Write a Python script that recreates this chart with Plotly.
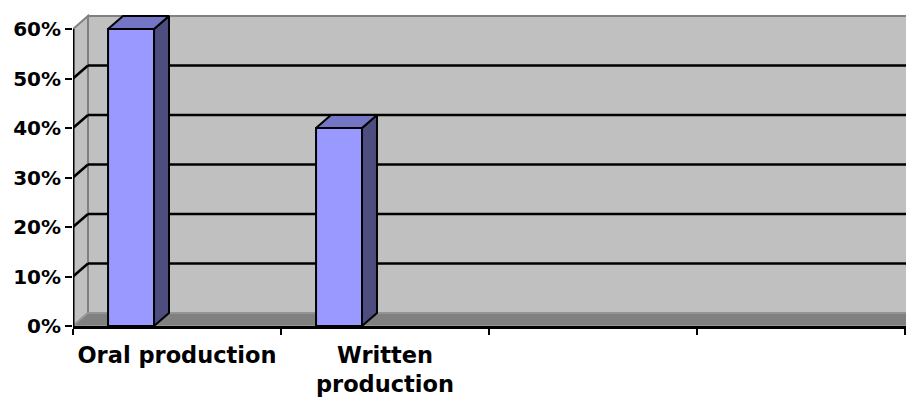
import plotly.graph_objects as go

# Chart data
categories = ["Oral production", "Written<br>production", "", ""]
shares = [0.60, 0.40, None, None]
y_ticks = [0.0, 0.1, 0.2, 0.3, 0.4, 0.5, 0.6]

# Colours of the faces and walls
FRONT = "#9999ff"
TOP = "#7575c6"
SIDE = "#4d4d80"
WALL = "#c0c0c0"
FLOOR = "#808080"
EDGE = "#808080"

n = len(categories)
y_max = y_ticks[-1]

# Pseudo 3-D depth offset (data units) and bar placement in each slot
DX = 0.072
DY = 0.0263
BAR_W = 0.221
BAR_OFF = 0.279
X_MAX = 4.005
Y_RANGE_TOP = 0.6384
FAR = n + 0.5

shapes = []
# back wall
shapes.append(dict(type="rect", xref="x", yref="y", x0=DX, x1=FAR + DX, y0=DY, y1=y_max + DY,
                   fillcolor=WALL, line=dict(color=EDGE, width=2), layer="below"))
# side wall
shapes.append(dict(type="path", xref="x", yref="y",
                   path=f"M 0,0 L {DX},{DY} L {DX},{y_max + DY} L 0,{y_max} Z",
                   fillcolor=WALL, line=dict(color=EDGE, width=2), layer="below"))
# floor
shapes.append(dict(type="path", xref="x", yref="y",
                   path=f"M 0,0 L {FAR},0 L {FAR + DX},{DY} L {DX},{DY} Z",
                   fillcolor=FLOOR, line=dict(color="#9a9a9a", width=1.5), layer="below"))
# gridlines on the back and side walls
for v in y_ticks[1:-1]:
    shapes.append(dict(type="line", xref="x", yref="y", x0=DX, x1=FAR + DX, y0=v + DY, y1=v + DY,
                       line=dict(color="black", width=2.5), layer="below"))
    shapes.append(dict(type="line", xref="x", yref="y", x0=0, x1=DX, y0=v, y1=v + DY,
                       line=dict(color="black", width=2.5), layer="below"))
# value axis line
shapes.append(dict(type="line", xref="x", yref="y", x0=0, x1=0, y0=0, y1=y_max,
                   line=dict(color="black", width=3), layer="above"))

fig = go.Figure()

bar_x = [i + BAR_OFF for i, v in enumerate(shares) if v is not None]
bar_y = [v for v in shares if v is not None]

fig.add_trace(go.Bar(
    x=bar_x, y=bar_y, width=BAR_W,
    marker=dict(color=FRONT, line=dict(color="black", width=2)),
    hoverinfo="skip",
))

for c, v in zip(bar_x, bar_y):
    x0, x1 = c - BAR_W / 2, c + BAR_W / 2
    # right-hand side face
    fig.add_trace(go.Scatter(
        x=[x1, x1 + DX, x1 + DX, x1, x1], y=[0, DY, v + DY, v, 0],
        mode="lines", fill="toself", fillcolor=SIDE,
        line=dict(color="black", width=2), hoverinfo="skip",
    ))
    # top face
    fig.add_trace(go.Scatter(
        x=[x0, x1, x1 + DX, x0 + DX, x0], y=[v, v, v + DY, v + DY, v],
        mode="lines", fill="toself", fillcolor=TOP,
        line=dict(color="black", width=2), hoverinfo="skip",
    ))

fig.update_layout(
    width=906, height=403,
    margin=dict(l=73, r=0, t=10, b=77),
    paper_bgcolor="white", plot_bgcolor="white",
    showlegend=False,
    shapes=shapes,
    xaxis=dict(
        range=[0, X_MAX],
        tickvals=[i + 0.5 for i in range(n)], ticktext=categories,
        ticks="", showline=True, linecolor="black", linewidth=3,
        showgrid=False, zeroline=False, ticklabelstandoff=7,
        minor=dict(tickvals=list(range(n + 1)), ticks="outside", ticklen=6,
                   tickwidth=2, tickcolor="black"),
        tickfont=dict(family="DejaVu Sans", size=22.5, color="black", weight="bold"),
    ),
    yaxis=dict(
        range=[0, Y_RANGE_TOP],
        tickvals=y_ticks, tickformat=".0%",
        ticks="outside", ticklen=7, tickwidth=2, tickcolor="black",
        showline=False, showgrid=False, zeroline=False,
        tickfont=dict(family="DejaVu Sans", size=20, color="black", weight="bold"),
    ),
)

fig.write_html("out.html")
